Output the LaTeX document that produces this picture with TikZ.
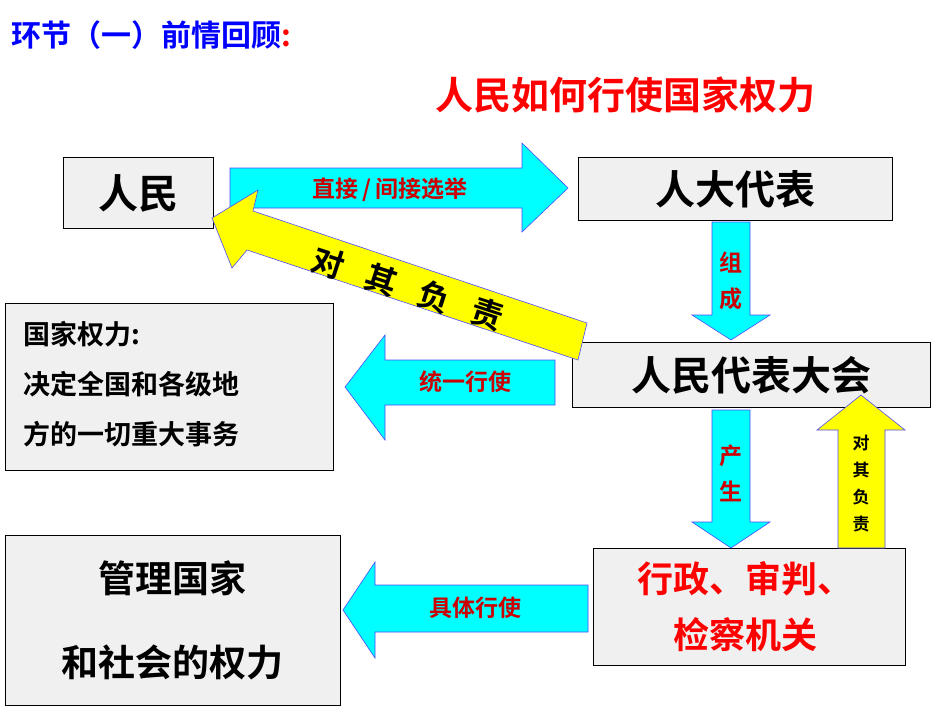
\documentclass[tikz,border=0pt]{standalone}
\usepackage{fontspec}
\setmainfont{Noto Sans CJK SC}[BoldFont={Noto Sans CJK SC Bold}]
\newfontfamily\cjk{Noto Sans CJK SC Bold}
\definecolor{cy}{RGB}{0,255,255}
\definecolor{ye}{RGB}{255,255,0}
\begin{document}
\begin{tikzpicture}[x=1pt,y=-1pt,
  box/.style={draw=black,fill=gray!12,line width=0.8pt},
  cyanar/.style={draw=blue!70,fill=cy,line width=0.6pt},
  yelar/.style={draw=blue!70,fill=ye,line width=0.6pt},
  lab/.style={font=\cjk\fontsize{23}{23}\selectfont,text=red!80!black},
  big/.style={font=\cjk\fontsize{40}{40}\selectfont}]
\useasboundingbox (0,0) rectangle (950,713);
\node[anchor=west,font=\cjk\fontsize{30}{30}\selectfont,text=blue] (t1) at (8,35) {环节（一）前情回顾\textcolor{red}{:}};
\node[font=\cjk\fontsize{38}{38}\selectfont,text=red] (t2) at (625,95) {人民如何行使国家权力};
% boxes
\draw[box] (63,157) rectangle (213,228); \node[big] (rm) at (138,193) {人民};
\draw[box] (578,157) rectangle (892,220); \node[big] (rd) at (735,189) {人大代表};
\draw[box] (572,342) rectangle (930,407); \node[big] (rdh) at (751,375) {人民代表大会};
\draw[box] (5,303) rectangle (333,470);
\node[anchor=north west,align=left,font=\cjk\fontsize{27}{50}\selectfont] (gj) at (20,318) {国家权力:\\决定全国和各级地\\方的一切重大事务};
\draw[box] (5,535) rectangle (340,705);
\node[align=center,font=\cjk\fontsize{37}{84}\selectfont] (gl) at (172,620) {管理国家\\和社会的权力};
\draw[box] (593,548) rectangle (905,665);
\node[align=center,text=red,font=\cjk\fontsize{36}{56}\selectfont] (xz) at (745,607) {行政、审判、\\检察机关};
% arrows
\draw[cyanar] (230,168) -- (522,168) -- (522,143) -- (568,188) -- (522,232) -- (522,208) -- (230,208) -- cycle;
\node[lab] (l1) at (390,190) {直接\,/\,间接选举};
\draw[yelar] (212,218) -- (258,190) -- (253,211) -- (587,323) -- (578,360) -- (247,250) -- (232,268) -- cycle;
\foreach \c [count=\i] in {对,其,负,责}
  \node[rotate=-18,font=\cjk\fontsize{32}{32}\selectfont] at ({328+(\i-1)*53},{263+(\i-1)*17}) {\c};
\draw[cyanar] (712,222) -- (750,222) -- (750,315) -- (770,315) -- (731,340) -- (692,315) -- (712,315) -- cycle;
\node[lab,align=center,font=\cjk\fontsize{23}{36}\selectfont] (zc) at (731,281) {组\\成};
\draw[cyanar] (712,410) -- (750,410) -- (750,522) -- (770,522) -- (731,548) -- (692,522) -- (712,522) -- cycle;
\node[lab,align=center,font=\cjk\fontsize{23}{36}\selectfont] (cs) at (731,473) {产\\生};
\draw[yelar] (838,548) -- (885,548) -- (885,430) -- (905,430) -- (861,395) -- (817,430) -- (838,430) -- cycle;
\node[align=center,font=\cjk\fontsize{17}{27}\selectfont] (dq) at (861,484) {对\\其\\负\\责};
\draw[cyanar] (555,360) -- (385,360) -- (385,335) -- (345,387) -- (385,440) -- (385,405) -- (555,405) -- cycle;
\node[lab] (ty) at (465,382) {统一行使};
\draw[cyanar] (588,585) -- (375,585) -- (375,562) -- (343,610) -- (375,658) -- (375,632) -- (588,632) -- cycle;
\node[lab] (jt) at (475,608) {具体行使};
\end{tikzpicture}
\end{document}
